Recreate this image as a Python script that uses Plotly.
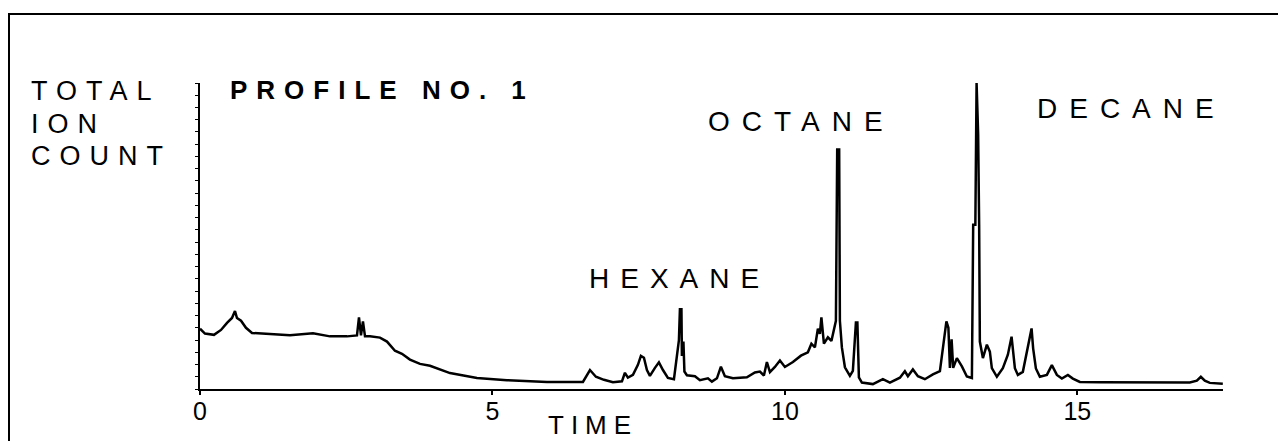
import plotly.graph_objects as go

# Retention time (minutes)
time_min = [
    0.000, 0.085, 0.239, 0.359, 0.462, 0.547, 0.598, 0.632, 0.701, 0.786,
    0.889, 1.145, 1.538, 1.932, 2.222, 2.513, 2.684, 2.718, 2.752, 2.786,
    2.821, 2.906, 3.077, 3.197, 3.333, 3.453, 3.590, 3.761, 3.932, 4.274,
    4.735, 5.248, 5.932, 6.547, 6.667, 6.769, 6.906, 7.060, 7.214, 7.265,
    7.316, 7.402, 7.487, 7.538, 7.590, 7.641, 7.692, 7.778, 7.846, 7.915,
    8.000, 8.103, 8.154, 8.188, 8.205, 8.231, 8.239, 8.265, 8.282, 8.325,
    8.462, 8.547, 8.684, 8.752, 8.838, 8.906, 8.974, 9.111, 9.350, 9.487,
    9.573, 9.641, 9.692, 9.744, 9.829, 9.915, 10.000, 10.137, 10.274, 10.393,
    10.453, 10.513, 10.564, 10.598, 10.624, 10.667, 10.735, 10.795, 10.872, 10.894,
    10.928, 10.940, 10.974, 11.026, 11.111, 11.162, 11.214, 11.239, 11.265, 11.316,
    11.504, 11.675, 11.795, 11.966, 12.051, 12.103, 12.188, 12.274, 12.393, 12.530,
    12.650, 12.701, 12.761, 12.795, 12.821, 12.850, 12.877, 12.940, 13.026, 13.111,
    13.197, 13.219, 13.256, 13.277, 13.304, 13.321, 13.333, 13.385, 13.453, 13.504,
    13.538, 13.624, 13.726, 13.812, 13.875, 13.932, 13.983, 14.068, 14.154, 14.217,
    14.244, 14.291, 14.359, 14.479, 14.564, 14.650, 14.735, 14.838, 14.923, 15.043,
    15.385, 15.949, 16.530, 16.923, 17.043, 17.111, 17.179, 17.265, 17.487,
]

# Total ion count (relative, tallest peak = 100)
ion_count = [
    19.7, 18.1, 17.7, 19.3, 21.6, 23.2, 25.5, 23.2, 22.3, 20.0,
    18.3, 18.0, 17.6, 18.2, 17.2, 17.2, 17.5, 23.4, 17.5, 22.1,
    17.2, 17.2, 16.8, 15.5, 12.5, 11.5, 9.6, 8.2, 7.6, 5.2,
    3.6, 2.9, 2.3, 2.3, 6.2, 4.0, 3.0, 2.2, 2.5, 5.3,
    3.7, 4.6, 7.9, 10.8, 10.2, 6.2, 4.3, 6.9, 8.7, 6.2,
    3.6, 3.2, 10.1, 16.0, 26.1, 26.1, 10.8, 15.5, 5.7, 4.5,
    4.2, 2.9, 3.5, 2.4, 3.5, 7.3, 4.2, 3.5, 3.8, 5.4,
    5.7, 4.4, 8.8, 5.5, 7.2, 9.3, 7.2, 8.8, 10.9, 12.0,
    14.8, 13.6, 19.7, 18.0, 23.4, 14.8, 16.9, 15.7, 22.3, 78.3,
    78.3, 22.3, 13.6, 7.1, 4.3, 5.9, 21.7, 21.7, 3.8, 2.1,
    1.6, 3.2, 2.1, 3.7, 5.8, 4.2, 6.4, 4.2, 3.2, 4.8,
    5.8, 13.4, 22.1, 20.0, 6.9, 16.2, 6.9, 10.1, 7.4, 4.1,
    3.6, 53.7, 53.7, 100.0, 83.1, 53.7, 15.5, 10.1, 14.5, 12.2,
    6.8, 4.0, 6.8, 11.2, 17.1, 6.8, 4.6, 5.6, 13.3, 19.8,
    13.3, 6.7, 4.0, 4.6, 7.8, 4.6, 3.4, 4.6, 3.4, 2.3,
    2.2, 2.2, 2.0, 2.1, 2.7, 4.0, 2.7, 2.0, 1.7,
]

tick_vals = [0, 5, 10, 15]
tick_text = ["0", "5", "10", "15"]
y_title_lines = ["TOTAL", "ION", "COUNT"]
chart_title = "PROFILE NO. 1"
x_title = "TIME"
peak_labels = ["HEXANE", "OCTANE", "DECANE"]

FONT = "Liberation Sans, Arial, Helvetica, sans-serif"
# The page body has an 8px margin, so the figure is drawn 8px in from the corner.
OFF = 8
W, H = 1286 - OFF, 441 - OFF
PL, PR, PT, PB = 200, 1223, 83, 389          # plot area on the page
L, R, T, B = PL - OFF, (W + OFF) - PR, PT - OFF, (H + OFF) - PB
PW, PH = PR - PL, PB - PT


def px(x):
    return (x - PL) / PW


def py(y):
    return (PB - y) / PH


def spaced(text, s):
    return '<span style="letter-spacing:%dpx">%s</span>' % (s, text)


fig = go.Figure()
fig.add_trace(go.Scatter(
    x=time_min, y=ion_count, mode="lines",
    line=dict(color="black", width=2.5),
    showlegend=False, hoverinfo="x+y",
))

annotations = []
for text, yc in zip(y_title_lines, [91, 124.5, 156]):
    annotations.append(dict(
        text=spaced(text, 9), x=px(29), y=py(yc), xref="paper", yref="paper",
        xanchor="left", yanchor="middle", showarrow=False,
        font=dict(family=FONT, size=27, color="black")))
annotations.append(dict(
    text="<b>" + spaced(chart_title, 9) + "</b>", x=px(228), y=py(90),
    xref="paper", yref="paper", xanchor="left", yanchor="middle",
    showarrow=False, font=dict(family=FONT, size=26, color="black")))
for text, xl, yc, sp in zip(peak_labels, [587, 706, 1035], [278, 121, 108], [11, 12, 12]):
    annotations.append(dict(
        text=spaced(text, sp), x=px(xl), y=py(yc), xref="paper", yref="paper",
        xanchor="left", yanchor="middle", showarrow=False,
        font=dict(family=FONT, size=28, color="black")))
annotations.append(dict(
    text=spaced(x_title, 7), x=px(546), y=py(425), xref="paper", yref="paper",
    xanchor="left", yanchor="middle", showarrow=False,
    font=dict(family=FONT, size=26, color="black")))

fig.update_layout(
    width=W, height=H,
    margin=dict(l=L, r=R, t=T, b=B, pad=0),
    paper_bgcolor="white", plot_bgcolor="white",
    annotations=annotations,
    shapes=[dict(type="rect", xref="paper", yref="paper",
                 x0=px(9), x1=px(1300), y0=py(460), y1=py(14),
                 line=dict(color="black", width=2), layer="below")],
    xaxis=dict(
        range=[0, 17.49], showgrid=False, zeroline=False,
        showline=True, linecolor="black", linewidth=2,
        tickmode="array", tickvals=tick_vals, ticktext=tick_text,
        ticks="outside", ticklen=4, tickwidth=2, tickcolor="black",
        ticklabelstandoff=-5,
        tickfont=dict(family=FONT, size=25, color="black"),
    ),
    yaxis=dict(
        range=[0, 100], showgrid=False, zeroline=False,
        showline=True, linecolor="black", linewidth=2,
        tickmode="linear", tick0=0, dtick=4,
        ticks="outside", ticklen=3, tickwidth=1, tickcolor="black",
        showticklabels=False,
    ),
)

fig.write_html("out.html")
